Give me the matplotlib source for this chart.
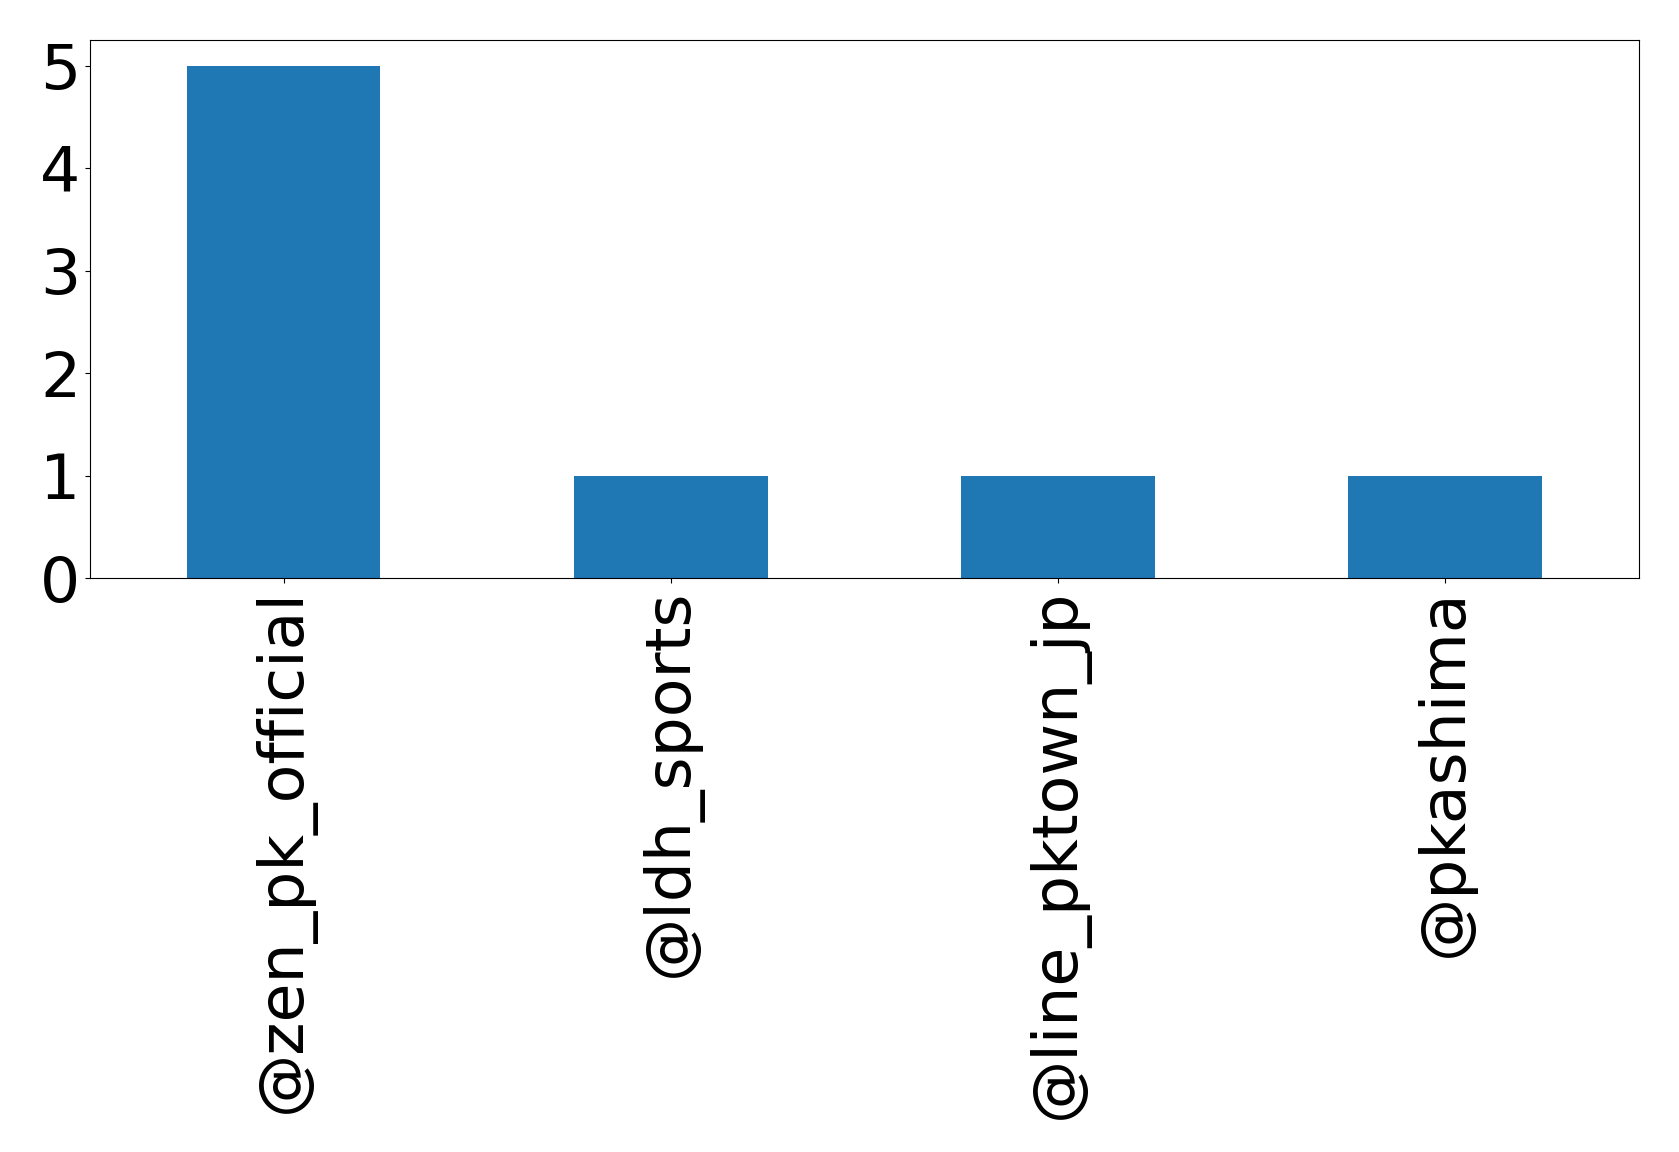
import matplotlib
matplotlib.use("Agg")
import matplotlib.pyplot as plt

accounts = ["@zen_pk_official", "@ldh_sports", "@line_pktown_jp", "@pkashima"]
counts = [5, 1, 1, 1]

fig = plt.figure(figsize=(16.79, 11.52), dpi=100)
ax = fig.add_axes([0.0536, 0.498, 0.9224, 0.467])
ax.bar(range(len(accounts)), counts, width=0.5, color="#1f77b4")
ax.set_xlim(-0.5, len(accounts) - 0.5)
ax.set_ylim(0, 5.25)
ax.set_xticks(range(len(accounts)))
ax.set_xticklabels(accounts, rotation=90, fontsize=45.5)
ax.set_yticks([0, 1, 2, 3, 4, 5])
ax.tick_params(axis="y", labelsize=45.5)
fig.savefig("out.png", dpi=100)
